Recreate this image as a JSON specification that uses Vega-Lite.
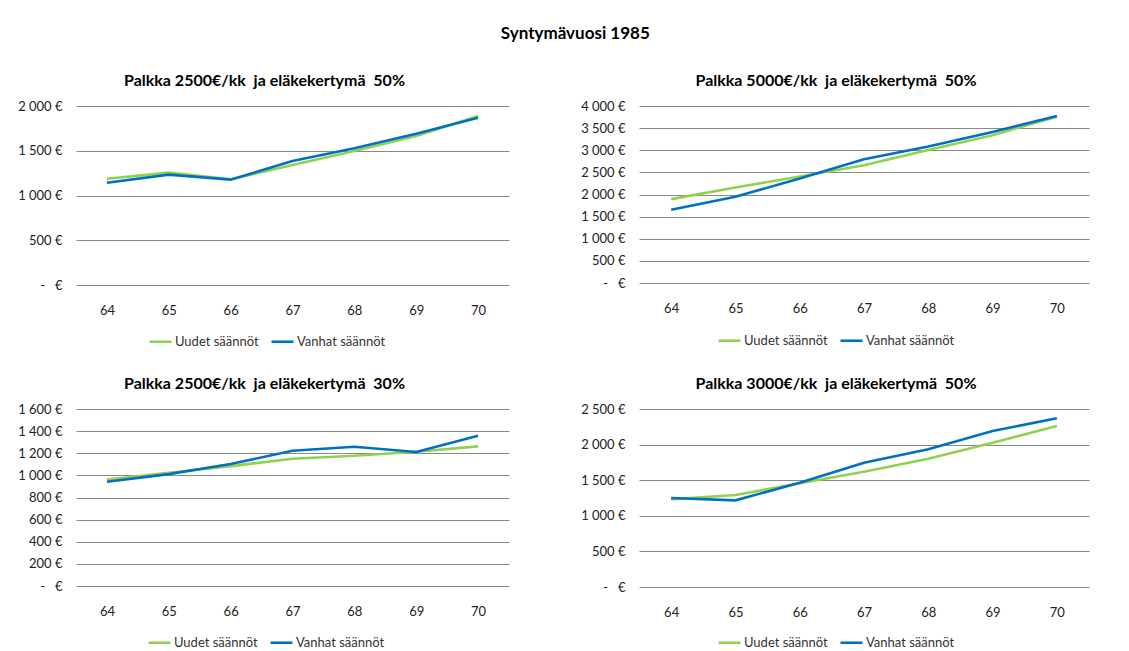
{
  "$schema": "https://vega.github.io/schema/vega-lite/v6.json",
  "background": "white",
  "padding": {"left": 17, "top": 25, "right": 5, "bottom": 0},
  "title": {"text": "Syntymävuosi 1985", "anchor": "middle", "font": "Lato", "fontSize": 17, "fontWeight": "bold", "color": "#000000", "offset": 30, "dx": 22},
  "datasets": {
    "p1": [
      {"ika": "64", "saanto": "Uudet säännöt", "euro": 1188},
      {"ika": "65", "saanto": "Uudet säännöt", "euro": 1255},
      {"ika": "66", "saanto": "Uudet säännöt", "euro": 1181},
      {"ika": "67", "saanto": "Uudet säännöt", "euro": 1341},
      {"ika": "68", "saanto": "Uudet säännöt", "euro": 1497},
      {"ika": "69", "saanto": "Uudet säännöt", "euro": 1665},
      {"ika": "70", "saanto": "Uudet säännöt", "euro": 1888},
      {"ika": "64", "saanto": "Vanhat säännöt", "euro": 1143},
      {"ika": "65", "saanto": "Vanhat säännöt", "euro": 1233},
      {"ika": "66", "saanto": "Vanhat säännöt", "euro": 1177},
      {"ika": "67", "saanto": "Vanhat säännöt", "euro": 1385},
      {"ika": "68", "saanto": "Vanhat säännöt", "euro": 1527},
      {"ika": "69", "saanto": "Vanhat säännöt", "euro": 1691},
      {"ika": "70", "saanto": "Vanhat säännöt", "euro": 1870}
    ],
    "p2": [
      {"ika": "64", "saanto": "Uudet säännöt", "euro": 1895},
      {"ika": "65", "saanto": "Uudet säännöt", "euro": 2158},
      {"ika": "66", "saanto": "Uudet säännöt", "euro": 2406},
      {"ika": "67", "saanto": "Uudet säännöt", "euro": 2662},
      {"ika": "68", "saanto": "Uudet säännöt", "euro": 3008},
      {"ika": "69", "saanto": "Uudet säännöt", "euro": 3338},
      {"ika": "70", "saanto": "Uudet säännöt", "euro": 3759},
      {"ika": "64", "saanto": "Vanhat säännöt", "euro": 1654},
      {"ika": "65", "saanto": "Vanhat säännöt", "euro": 1947},
      {"ika": "66", "saanto": "Vanhat säännöt", "euro": 2361},
      {"ika": "67", "saanto": "Vanhat säännöt", "euro": 2797},
      {"ika": "68", "saanto": "Vanhat säännöt", "euro": 3083},
      {"ika": "69", "saanto": "Vanhat säännöt", "euro": 3414},
      {"ika": "70", "saanto": "Vanhat säännöt", "euro": 3774}
    ],
    "p3": [
      {"ika": "64", "saanto": "Uudet säännöt", "euro": 963},
      {"ika": "65", "saanto": "Uudet säännöt", "euro": 1023},
      {"ika": "66", "saanto": "Uudet säännöt", "euro": 1084},
      {"ika": "67", "saanto": "Uudet säännöt", "euro": 1150},
      {"ika": "68", "saanto": "Uudet säännöt", "euro": 1177},
      {"ika": "69", "saanto": "Uudet säännöt", "euro": 1214},
      {"ika": "70", "saanto": "Uudet säännöt", "euro": 1262},
      {"ika": "64", "saanto": "Vanhat säännöt", "euro": 942},
      {"ika": "65", "saanto": "Vanhat säännöt", "euro": 1011},
      {"ika": "66", "saanto": "Vanhat säännöt", "euro": 1102},
      {"ika": "67", "saanto": "Vanhat säännöt", "euro": 1223},
      {"ika": "68", "saanto": "Vanhat säännöt", "euro": 1259},
      {"ika": "69", "saanto": "Vanhat säännöt", "euro": 1211},
      {"ika": "70", "saanto": "Vanhat säännöt", "euro": 1358}
    ],
    "p4": [
      {"ika": "64", "saanto": "Uudet säännöt", "euro": 1231},
      {"ika": "65", "saanto": "Uudet säännöt", "euro": 1292},
      {"ika": "66", "saanto": "Uudet säännöt", "euro": 1456},
      {"ika": "67", "saanto": "Uudet säännöt", "euro": 1620},
      {"ika": "68", "saanto": "Uudet säännöt", "euro": 1802},
      {"ika": "69", "saanto": "Uudet säännöt", "euro": 2027},
      {"ika": "70", "saanto": "Uudet säännöt", "euro": 2261},
      {"ika": "64", "saanto": "Vanhat säännöt", "euro": 1250},
      {"ika": "65", "saanto": "Vanhat säännöt", "euro": 1217},
      {"ika": "66", "saanto": "Vanhat säännöt", "euro": 1465},
      {"ika": "67", "saanto": "Vanhat säännöt", "euro": 1746},
      {"ika": "68", "saanto": "Vanhat säännöt", "euro": 1934},
      {"ika": "69", "saanto": "Vanhat säännöt", "euro": 2191},
      {"ika": "70", "saanto": "Vanhat säännöt", "euro": 2369}
    ]
  },
  "config": {
    "font": "Lato",
    "view": {"stroke": null},
    "title": {"font": "Lato", "fontSize": 16, "fontWeight": "bold", "color": "#000000", "anchor": "middle", "offset": 11, "dx": -28},
    "axis": {"labelFont": "Lato", "labelFontSize": 13, "labelColor": "#222222", "ticks": false, "domain": false, "title": null},
    "axisX": {"grid": false, "labelPadding": 19, "labelAngle": 0},
    "axisY": {"grid": true, "gridColor": "#8a8a8a", "gridWidth": 1.2, "labelPadding": 14},
    "legend": {"orient": "none", "direction": "horizontal", "title": null, "labelFont": "Lato", "labelFontSize": 13, "labelColor": "#333333", "symbolType": "stroke", "symbolStrokeWidth": 3, "symbolSize": 484, "labelOffset": 2, "columnPadding": 7},
    "line": {"strokeWidth": 2.6}
  },
  "spacing": 27,
  "resolve": {"scale": {"color": "independent"}, "legend": {"color": "independent"}},
  "vconcat": [
    {
      "spacing": 71,
      "resolve": {"scale": {"color": "independent"}, "legend": {"color": "independent"}},
      "hconcat": [
        {
          "title": "Palkka 2500€/kk\u00a0 ja eläkekertymä\u00a0 50%",
          "width": 433, "height": 179,
          "data": {"name": "p1"},
          "mark": {"type": "line"},
          "encoding": {
            "x": {"field": "ika", "type": "ordinal"},
            "y": {"field": "euro", "type": "quantitative", "scale": {"domain": [0, 2000]}, "axis": {"values": [0, 500, 1000, 1500, 2000], "labelExpr": "datum.value == 0 ? '-\u00a0\u00a0\u00a0€' : replace(format(datum.value, ',d'), ',', ' ') + ' €'"}},
            "color": {"field": "saanto", "type": "nominal", "scale": {"domain": ["Uudet säännöt", "Vanhat säännöt"], "range": ["#92D050", "#0070C0"]}, "legend": {"legendX": 72, "legendY": 223}}
          }
        },
        {
          "title": "Palkka 5000€/kk\u00a0 ja eläkekertymä\u00a0 50%",
          "width": 450, "height": 177,
          "data": {"name": "p2"},
          "mark": {"type": "line"},
          "encoding": {
            "x": {"field": "ika", "type": "ordinal"},
            "y": {"field": "euro", "type": "quantitative", "scale": {"domain": [0, 4000]}, "axis": {"values": [0, 500, 1000, 1500, 2000, 2500, 3000, 3500, 4000], "labelExpr": "datum.value == 0 ? '-\u00a0\u00a0\u00a0€' : replace(format(datum.value, ',d'), ',', ' ') + ' €'"}},
            "color": {"field": "saanto", "type": "nominal", "scale": {"domain": ["Uudet säännöt", "Vanhat säännöt"], "range": ["#92D050", "#0070C0"]}, "legend": {"legendX": 78, "legendY": 222}}
          }
        }
      ]
    },
    {
      "spacing": 71,
      "resolve": {"scale": {"color": "independent"}, "legend": {"color": "independent"}},
      "hconcat": [
        {
          "title": "Palkka 2500€/kk\u00a0 ja eläkekertymä\u00a0 30%",
          "width": 433, "height": 177,
          "data": {"name": "p3"},
          "mark": {"type": "line"},
          "encoding": {
            "x": {"field": "ika", "type": "ordinal"},
            "y": {"field": "euro", "type": "quantitative", "scale": {"domain": [0, 1600]}, "axis": {"values": [0, 200, 400, 600, 800, 1000, 1200, 1400, 1600], "labelExpr": "datum.value == 0 ? '-\u00a0\u00a0\u00a0€' : replace(format(datum.value, ',d'), ',', ' ') + ' €'"}},
            "color": {"field": "saanto", "type": "nominal", "scale": {"domain": ["Uudet säännöt", "Vanhat säännöt"], "range": ["#92D050", "#0070C0"]}, "legend": {"legendX": 71, "legendY": 221}}
          }
        },
        {
          "title": "Palkka 3000€/kk\u00a0 ja eläkekertymä\u00a0 50%",
          "width": 450, "height": 178,
          "data": {"name": "p4"},
          "mark": {"type": "line"},
          "encoding": {
            "x": {"field": "ika", "type": "ordinal"},
            "y": {"field": "euro", "type": "quantitative", "scale": {"domain": [0, 2500]}, "axis": {"values": [0, 500, 1000, 1500, 2000, 2500], "labelExpr": "datum.value == 0 ? '-\u00a0\u00a0\u00a0€' : replace(format(datum.value, ',d'), ',', ' ') + ' €'"}},
            "color": {"field": "saanto", "type": "nominal", "scale": {"domain": ["Uudet säännöt", "Vanhat säännöt"], "range": ["#92D050", "#0070C0"]}, "legend": {"legendX": 78, "legendY": 221}}
          }
        }
      ]
    }
  ]
}
